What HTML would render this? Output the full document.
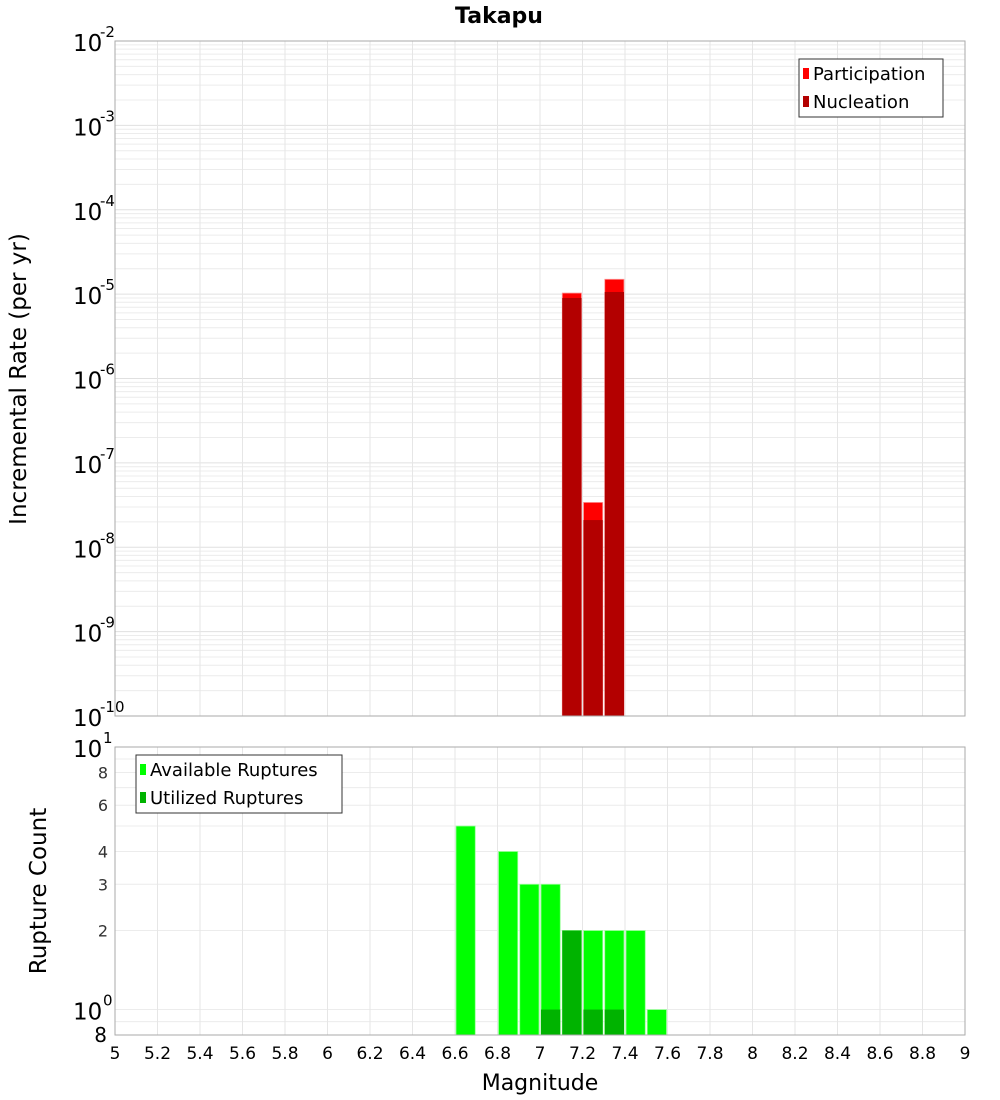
<!DOCTYPE html>
<html><head><meta charset="utf-8"><style>
body{margin:0;background:#fff;}
svg{display:block;font-family:"DejaVu Sans","Liberation Sans",sans-serif;}
</style></head><body>
<svg id="c" width="1000" height="1100" xmlns="http://www.w3.org/2000/svg">
<text x="499" y="23" text-anchor="middle" font-size="22" font-weight="bold">Takapu</text>
<g id="topPlot"></g>
<g id="botPlot"></g>
<text transform="translate(26,379) rotate(-90)" text-anchor="middle" font-size="23">Incremental Rate (per yr)</text>
<text transform="translate(46,891) rotate(-90)" text-anchor="middle" font-size="23">Rupture Count</text>
<text x="540" y="1090" text-anchor="middle" font-size="22">Magnitude</text>
</svg>
<script>
const mags = [6.65,6.85,6.95,7.05,7.15,7.25,7.35,7.45,7.55];
const available = [5,4,3,3,2,2,2,2,1];
const utilized = [0,0,0,1,2,1,1,0,0];
const rateMags = [7.15,7.25,7.35];
const participation = [1.03e-5,3.4e-8,1.5e-5];
const nucleation = [9.0e-6,2.1e-8,1.06e-5];
const xTicks = [5,5.2,5.4,5.6,5.8,6,6.2,6.4,6.6,6.8,7,7.2,7.4,7.6,7.8,8,8.2,8.4,8.6,8.8,9];
const countMinorLabels = [8,6,4,3,2];

const NS="http://www.w3.org/2000/svg";
const X0=115,X1=965;
const xs=m=>X0+(m-5)/4*(X1-X0);
const T0=41,T1=716;
const yTop=v=>T0+(-2-Math.log10(v))*(T1-T0)/8;
const B0=747,B1=1035,bLo=Math.log10(0.8);
const yBot=v=>B0+(1-Math.log10(v))*(B1-B0)/(1-bLo);
function el(p,t,a,txt){const e=document.createElementNS(NS,t);for(const k in a)e.setAttribute(k,a[k]);if(txt!==undefined)e.textContent=txt;p.appendChild(e);return e;}
const gTop=document.getElementById('topPlot'),gBot=document.getElementById('botPlot');

for(let d=-10;d<-2;d++){for(let k=2;k<=9;k++){const yy=yTop(k*Math.pow(10,d));
const g=el(gTop,'line',{x1:X0,x2:X1,y1:yy,y2:yy,stroke:'#ececec','stroke-width':1});

}
const yy=yTop(Math.pow(10,d));el(gTop,'line',{x1:X0,x2:X1,y1:yy,y2:yy,stroke:'#e0e0e0'});}
for(const v of [0.8,0.9,1,2,3,4,5,6,7,8,9,10]){const yy=yBot(v);
const g=el(gBot,'line',{x1:X0,x2:X1,y1:yy,y2:yy,stroke:'#ececec'});

}
for(const t of xTicks){for(const [p,a,b] of [[gTop,T0,T1],[gBot,B0,B1]]){
const g=el(p,'line',{x1:xs(t),x2:xs(t),y1:a,y2:b,stroke:'#e6e6e6'});

}}

rateMags.forEach((m,i)=>{
const bx=xs(m-0.05)+1,bw=xs(m+0.05)-xs(m-0.05)-2;
const r=el(gTop,'rect',{x:bx,y:yTop(participation[i]),width:bw,height:T1-yTop(participation[i]),fill:'#ff0000',stroke:'#ff9999','stroke-width':0.8});


const n=el(gTop,'rect',{x:bx,y:yTop(nucleation[i]),width:bw,height:T1-yTop(nucleation[i]),fill:'#b30000'});


});
mags.forEach((m,i)=>{
const bx=xs(m-0.05)+1,bw=xs(m+0.05)-xs(m-0.05)-2;
if(available[i]>0){const r=el(gBot,'rect',{x:bx,y:yBot(available[i]),width:bw,height:B1-yBot(available[i]),fill:'#00ff00',stroke:'#99ff99','stroke-width':0.8});

}
if(utilized[i]>0){const u=el(gBot,'rect',{x:bx,y:yBot(utilized[i]),width:bw,height:B1-yBot(utilized[i]),fill:'#00b300'});

}
});

el(gTop,'rect',{x:X0,y:T0,width:X1-X0,height:T1-T0,fill:'none',stroke:'#aaa'});
el(gBot,'rect',{x:X0,y:B0,width:X1-X0,height:B1-B0,fill:'none',stroke:'#aaa'});

for(let d=-10;d<=-2;d++){const yy=yTop(Math.pow(10,d));
const t=el(gTop,'text',{x:73,y:yy+10,'font-size':23},'10');


el(gTop,'text',{x:100,y:yy-4,'font-size':15},String(d));}
for(const [v,e] of [[10,1],[1,0]]){const yy=yBot(v);
const t=el(gBot,'text',{x:73,y:yy+10,'font-size':23},'10');


el(gBot,'text',{x:103,y:yy-4,'font-size':15},String(e));}
for(const v of countMinorLabels){const t=el(gBot,'text',{x:108,y:yBot(v)+6,'font-size':16,'text-anchor':'end',fill:'#333'},String(v));

}
{const t=el(gBot,'text',{x:107,y:1042,'font-size':20,'text-anchor':'end'},'8');

}
for(const t of xTicks){const s=el(gBot,'text',{x:xs(t),y:1059,'font-size':17,'text-anchor':'middle'},String(t));

}

function legend(p,lx,ly,w,h,items,name){const g=el(p,'g',{});


el(g,'rect',{x:lx,y:ly,width:w,height:h,fill:'#fff',stroke:'#333'});
items.forEach(([c,l],i)=>{const yy=ly+14+i*28;
el(g,'rect',{x:lx+4,y:yy-5,width:6,height:11,fill:c});
const t=el(g,'text',{x:lx+14,y:yy+7,'font-size':18},l);

});}
legend(gTop,799,59,144,58,[['#ff0000','Participation'],['#b30000','Nucleation']],'rate-legend');
legend(gBot,136,755,206,58,[['#00ff00','Available Ruptures'],['#00b300','Utilized Ruptures']],'count-legend');
</script>
</body></html>
